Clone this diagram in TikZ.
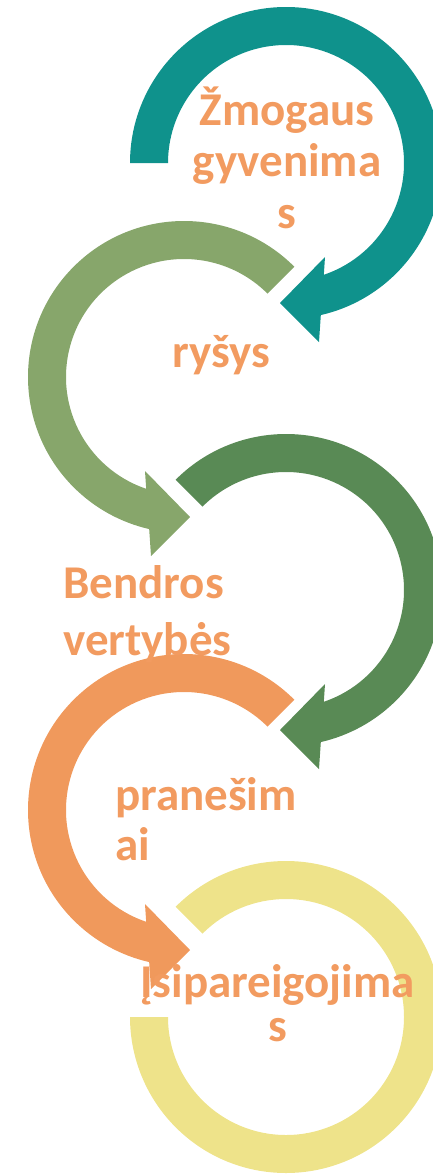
\documentclass[tikz,border=0pt]{standalone}
\usepackage{fontspec}
\setmainfont{Carlito}
\definecolor{ringteal}{HTML}{0F928C}
\definecolor{ringlime}{HTML}{87A66B}
\definecolor{ringgreen}{HTML}{598A55}
\definecolor{ringorange}{HTML}{F0995C}
\definecolor{ringyellow}{HTML}{EEE38A}
\definecolor{lbltext}{HTML}{F29B60}
\begin{document}
\begin{tikzpicture}[x=1pt, y=1pt,
  ring/.style={fill=#1, draw=none},
  lbl/.style={text=lbltext, inner sep=0pt, font=\bfseries\fontsize{47}{#1}\selectfont}]
\useasboundingbox (0,0) rectangle (433,-1175);
\clip (0,0) rectangle (433,-1175);
% centres of the five rings
\coordinate (c1) at (286,-163);
\coordinate (c2) at (184,-377);
\coordinate (c3) at (286,-590);
\coordinate (c4) at (184,-810);
\coordinate (c5) at (286,-1017);
% rings turning clockwise, head at the bottom
\path[ring=ringteal, shift={(c1)}] (180:156) arc[start angle=180, end angle=-77.1, radius=156]
  -- (33,-179) -- (-6,-140) -- (39,-94) -- (-71.3:118)
  arc[start angle=-71.3, end angle=180, radius=118] -- cycle;
\path[ring=ringgreen, shift={(c3)}] (135:156) arc[start angle=135, end angle=-77.1, radius=156]
  -- (33,-179) -- (-6,-140) -- (39,-94) -- (-71.3:118)
  arc[start angle=-71.3, end angle=135, radius=118] -- cycle;
% rings turning anticlockwise
\path[ring=ringlime, shift={(c2)}] (45:156) arc[start angle=45, end angle=257.1, radius=156]
  -- (-33,-179) -- (6,-140) -- (-39,-94) -- (251.3:118)
  arc[start angle=251.3, end angle=45, radius=118] -- cycle;
\path[ring=ringorange, shift={(c4)}] (45:156) arc[start angle=45, end angle=257.1, radius=156]
  -- (-33,-179) -- (6,-140) -- (-39,-94) -- (251.3:118)
  arc[start angle=251.3, end angle=45, radius=118] -- cycle;
% last ring, no head
\path[ring=ringyellow, shift={(c5)}] (135:156) arc[start angle=135, end angle=-180, radius=156]
  -- (-180:118) arc[start angle=-180, end angle=135, radius=118] -- cycle;
% labels (base = last line)
\node[lbl=51.5, align=center, anchor=base] (zmogaus) at (287,-228) {Žmogaus\\gyvenima\\s};
\node[lbl=51.5, anchor=base] (rysys) at (221.5,-367) {ryšys};
\node[lbl=57, align=left, anchor=base west] (bendros) at (63,-655) {Bendros\\vertybės};
\node[lbl=50, align=left, anchor=base west] (pranesimai) at (115,-860) {pranešim\\ai};
\node[lbl=44, align=center, anchor=base] (isipareigojimas) at (277.5,-1041) {Įsipareigojima\\s};
\end{tikzpicture}
\end{document}
